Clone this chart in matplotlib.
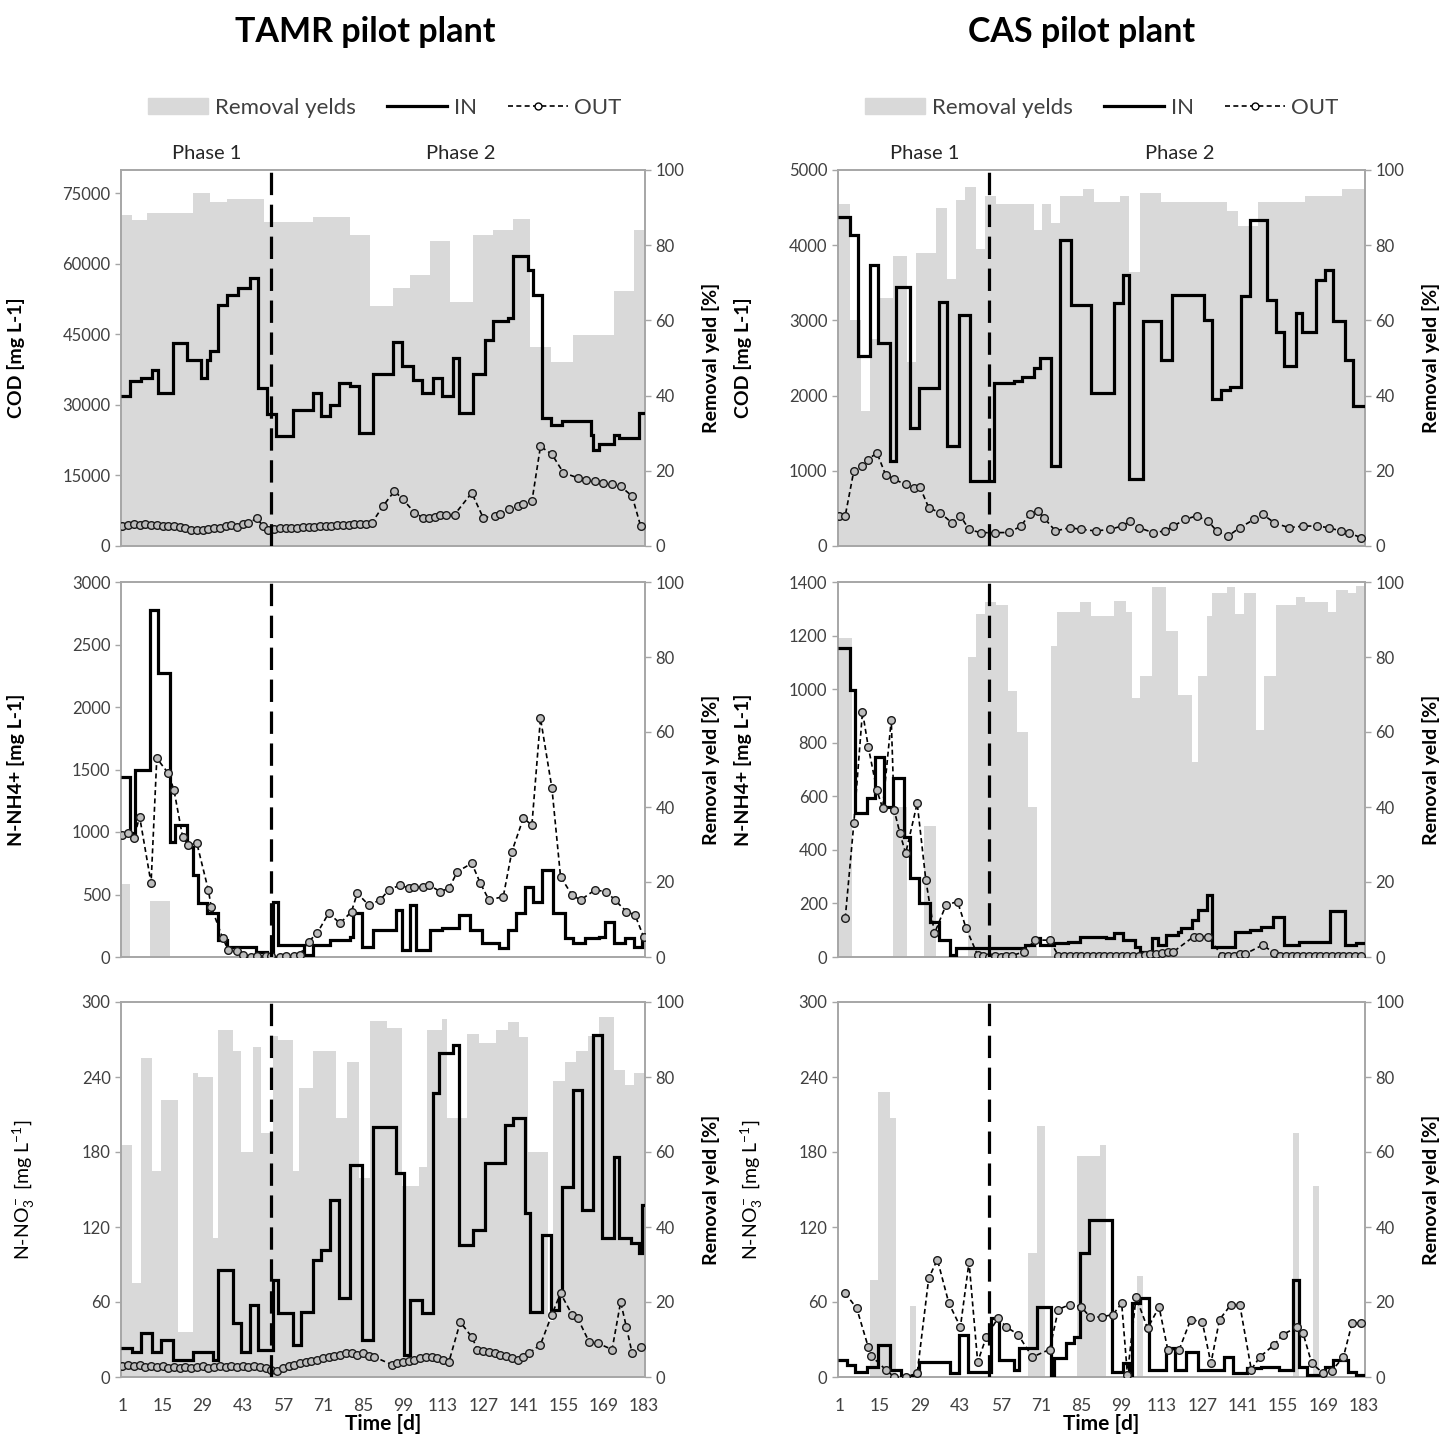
import numpy as np
import matplotlib.pyplot as plt
from matplotlib.patches import Patch
from matplotlib.lines import Line2D

plt.rcParams['font.family'] = ['Lato', 'DejaVu Sans']
plt.rcParams['mathtext.fontset'] = 'custom'
plt.rcParams['mathtext.rm'] = 'Lato'
plt.rcParams['mathtext.it'] = 'Lato:italic'
plt.rcParams['mathtext.bf'] = 'Lato:bold'

# ---------------- data (days of change / values) ----------------
# TAMR - COD
TAMR_COD_REM_DAYS = [1, 5, 10, 26, 32, 38, 51, 68, 81, 88, 96, 102, 109, 116, 124, 131, 138, 144, 151, 159, 173, 180]
TAMR_COD_REM = [88, 86.7, 88.5, 93.8, 91.6, 92.2, 86.3, 87.6, 82.7, 63.7, 68.6, 72, 81, 65, 82.7, 84, 87, 53, 49, 56, 67.7, 84]
TAMR_COD_IN_DAYS = [1, 4, 8, 12, 14, 19, 24, 29, 31, 32, 35, 38, 42, 46, 49, 52, 55, 61, 68, 71, 74, 77, 81, 84, 89,
                    96, 99, 103, 106, 110, 113, 117, 119, 124, 128, 131, 136, 138, 143, 145, 148, 151, 155, 165, 166,
                    168, 173, 175, 182]
TAMR_COD_IN = [32000, 35000, 35700, 37500, 32500, 43200, 39600, 35700, 39600, 41400, 51300, 53400, 54900, 57000,
               33600, 28000, 23400, 29000, 32500, 27600, 30100, 34700, 34000, 24100, 36500, 43300, 38200, 35400,
               32600, 35700, 31900, 40000, 28300, 36500, 43900, 47800, 48500, 61600, 58800, 53500, 27300, 25800,
               26500, 23700, 20500, 21600, 23700, 23000, 28300]
TAMR_COD_OUT_DAYS = [1, 3, 5, 7, 9, 11, 13, 15, 17, 19, 21, 23, 25, 27, 29, 31, 33, 35, 37, 39, 41, 43, 45, 48, 50,
                     52, 54, 56, 58, 60, 62, 64, 66, 68, 70, 72, 74, 76, 78, 80, 82, 84, 86, 88, 92, 96, 99, 103,
                     106, 108, 110, 112, 114, 117, 123, 127, 131, 133, 136, 139, 141, 144, 147, 151, 155, 160, 163,
                     166, 169, 172, 175, 179, 182]
TAMR_COD_OUT = [4200, 4400, 4600, 4500, 4600, 4500, 4400, 4300, 4200, 4300, 4000, 3800, 3500, 3400, 3300, 3600,
                3900, 3800, 4200, 4400, 4100, 4600, 4800, 6000, 4200, 3500, 3700, 3900, 3900, 3800, 3900, 4000,
                4000, 4100, 4200, 4200, 4300, 4400, 4400, 4500, 4600, 4700, 4600, 4800, 8500, 11700, 9900, 7100,
                6000, 6000, 6200, 6500, 6700, 6700, 11300, 6000, 6400, 6800, 7800, 8500, 9000, 9500, 21200,
                19500, 15600, 14500, 14000, 13800, 13300, 13100, 12700, 10600, 4200]

# TAMR - N-NH4+
TAMR_NH4_REM_DAYS = [1, 4, 11, 18]
TAMR_NH4_REM = [19.6, 0, 15, 0]
TAMR_NH4_IN_DAYS = [1, 4, 6, 11, 14, 18, 20, 24, 26, 28, 31, 35, 38, 48, 52, 54, 56, 65, 68, 74, 81, 82, 85, 89, 97,
                    99, 102, 104, 109, 113, 119, 123, 127, 133, 136, 139, 142, 145, 148, 152, 156, 159, 163, 168,
                    170, 173, 177, 180, 183]
TAMR_NH4_IN = [1443, 990, 1496, 2776, 2270, 923, 1056, 883, 656, 430, 350, 136, 83, 43, 5, 443, 96, 16, 96, 136,
               163, 350, 83, 216, 376, 56, 416, 56, 216, 229, 336, 216, 109, 69, 216, 350, 563, 443, 696, 350,
               150, 109, 150, 163, 283, 109, 150, 83, 163]
TAMR_NH4_OUT_DAYS = [1, 3, 5, 7, 11, 13, 17, 19, 22, 24, 27, 31, 32, 36, 38, 41, 43, 46, 48, 51, 53, 56, 58, 61, 63,
                     66, 69, 73, 77, 81, 83, 87, 91, 94, 98, 101, 103, 106, 108, 112, 115, 118, 123, 126, 129, 134,
                     137, 141, 144, 147, 151, 154, 158, 161, 166, 170, 173, 177, 180, 183]
TAMR_NH4_OUT = [980, 990, 950, 1123, 590, 1590, 1470, 1336, 963, 896, 909, 536, 403, 150, 56, 50, 20, 0, 10, 5,
                5, 0, 5, 5, 20, 123, 190, 350, 270, 363, 510, 416, 456, 536, 576, 550, 563, 560, 576, 523, 550,
                683, 750, 590, 456, 483, 843, 1110, 1056, 1910, 1350, 643, 496, 456, 536, 523, 456, 363, 336, 163]

# TAMR - N-NO3-
TAMR_NO3_REM_DAYS = [1, 5, 8, 12, 15, 21, 26, 28, 33, 35, 40, 43, 47, 50, 54, 56, 61, 63, 68, 76, 80, 84, 88, 94,
                     99, 105, 108, 113, 115, 122, 126, 132, 136, 140, 143, 150, 152, 156, 160, 164, 168, 173, 177, 180]
TAMR_NO3_REM = [62, 25, 85, 55, 74, 12, 81, 80, 37, 92.5, 87, 60, 88, 65, 91, 90, 55, 77, 87, 69, 84, 53, 95, 93,
                51, 56, 92.5, 95.6, 69, 91.6, 89, 92.5, 94.7, 90.7, 60, 15, 79, 84, 87, 91, 96, 82, 78, 81]
TAMR_NO3_IN_DAYS = [1, 5, 8, 12, 15, 19, 26, 33, 35, 40, 43, 46, 49, 54, 56, 61, 64, 68, 71, 74, 77, 81, 85, 89, 97,
                    100, 102, 106, 110, 112, 117, 119, 124, 128, 135, 138, 142, 144, 148, 151, 154, 155, 159, 162,
                    166, 169, 173, 175, 179, 182, 183]
TAMR_NO3_IN = [23, 20, 35, 20, 30, 14, 20, 14, 86, 43, 20, 58, 22, 78, 51, 26, 52, 94, 102, 142, 63, 170, 30, 200,
               163, 18, 62, 51, 227, 259, 266, 106, 118, 171, 202, 207, 131, 52, 114, 54, 67, 152, 230, 134, 274,
               111, 176, 111, 107, 99, 138]
TAMR_NO3_OUT_DAYS = [1, 3, 5, 7, 9, 11, 13, 15, 17, 19, 21, 23, 25, 27, 29, 31, 33, 35, 37, 39, 41, 43, 45, 47, 49,
                     51, 53, 55, 57, 59, 61, 63, 65, 67, 69, 71, 73, 75, 77, 79, 81, 83, 85, 87, 89, 95, 97, 99, 101,
                     103, 105, 107, 109, 111, 113, 115, 119, 123, 125, 127, 129, 131, 133, 135, 137, 139, 141, 143,
                     147, 151, 154, 158, 160, 164, 167, 172, 175, 177, 179, 182]
TAMR_NO3_OUT = [9, 10, 9, 10, 8, 9, 8, 9, 7, 8, 7, 8, 7, 8, 9, 7, 8, 9, 8, 9, 8, 9, 8, 9, 8, 7, 6, 5, 7, 9, 10, 11,
                12, 13, 14, 15, 16, 17, 18, 19, 19, 18, 19, 17, 16, 10, 11, 12, 13, 14, 15, 16, 16, 15, 14, 12, 44,
                32, 22, 21, 20, 19, 18, 17, 15, 14, 16, 19, 26, 50, 67, 50, 47, 28, 27, 22, 60, 40, 19, 24]

# CAS - COD
CAS_COD_REM_DAYS = [1, 5, 9, 12, 15, 20, 25, 28, 35, 39, 42, 45, 49, 52, 56, 69, 72, 75, 78, 86, 90, 99, 102, 106,
                    113, 136, 140, 147, 163, 176]
CAS_COD_REM = [91, 60, 36, 55, 66, 77, 49, 78, 90, 71, 92, 95.5, 79, 93, 91, 84, 91, 86, 93, 95, 91.6, 93, 73, 94,
               91.6, 89, 85, 91.6, 93, 95]
CAS_COD_IN_DAYS = [1, 5, 8, 12, 15, 19, 21, 26, 29, 36, 39, 43, 47, 55, 62, 65, 69, 71, 75, 78, 82, 89, 97, 100,
                   102, 107, 113, 117, 128, 131, 134, 137, 141, 144, 150, 153, 156, 160, 162, 167, 170, 173, 177, 180]
CAS_COD_IN = [4380, 4137, 2520, 3740, 2700, 1130, 3450, 1570, 2100, 3250, 1330, 3075, 860, 2170, 2200, 2250, 2370,
              2500, 1060, 4070, 3210, 2035, 3230, 3600, 885, 2990, 2480, 3340, 3010, 1950, 2080, 2120, 3320, 4340,
              3275, 2850, 2390, 3100, 2850, 3540, 3670, 2990, 2480, 1860]
CAS_COD_OUT_DAYS = [1, 3, 6, 9, 11, 14, 17, 20, 24, 27, 29, 32, 36, 40, 43, 46, 50, 55, 60, 64, 67, 70, 72, 76, 81,
                    85, 90, 95, 99, 102, 105, 110, 114, 117, 121, 125, 129, 132, 136, 140, 145, 148, 152, 157, 162,
                    167, 171, 175, 178, 182]
CAS_COD_OUT = [400, 400, 1000, 1060, 1150, 1240, 950, 885, 820, 775, 780, 510, 440, 310, 400, 220, 177, 177, 180,
               265, 420, 465, 376, 200, 243, 221, 200, 221, 265, 332, 243, 177, 200, 265, 354, 400, 332, 200, 133,
               243, 354, 420, 310, 243, 265, 265, 243, 200, 177, 110]

# CAS - N-NH4+
CAS_NH4_REM_DAYS = [1, 6, 20, 25, 31, 35, 46, 49, 52, 56, 60, 63, 67, 70, 75, 77, 85, 89, 97, 101, 103, 106, 110,
                    115, 119, 124, 126, 129, 131, 136, 139, 142, 146, 149, 153, 160, 163, 171, 174, 178, 181]
CAS_NH4_REM = [85, 0, 40, 0, 35, 0, 80, 91.6, 94.7, 94, 71, 60, 40, 0, 83, 92, 94.7, 91, 95, 92, 69, 75, 98.8, 87,
               70, 52, 75, 91, 97, 98.8, 91.6, 97, 60.5, 75, 94, 96, 94.7, 92, 98, 97, 99]
CAS_NH4_IN_DAYS = [1, 5, 7, 11, 14, 17, 20, 24, 26, 29, 33, 36, 40, 42, 66, 69, 71, 76, 81, 85, 94, 97, 100, 104,
                   106, 110, 112, 115, 119, 120, 124, 126, 129, 131, 139, 144, 148, 152, 156, 161, 172, 177, 181]
CAS_NH4_IN = [1152, 997, 536, 592, 748, 561, 667, 449, 294, 200, 132, 63, 7, 32, 45, 70, 45, 51, 57, 76, 70, 88,
              63, 39, 20, 70, 45, 82, 95, 107, 138, 175, 231, 39, 95, 100, 113, 150, 45, 57, 170, 45, 51]
CAS_NH4_OUT_DAYS = [3, 6, 9, 11, 14, 16, 19, 20, 22, 24, 28, 31, 34, 38, 42, 45, 49, 51, 53, 55, 57, 59, 61, 65, 69,
                    74, 77, 79, 81, 83, 85, 87, 89, 91, 93, 95, 97, 99, 101, 103, 105, 107, 109, 111, 113, 115, 117,
                    124, 126, 129, 134, 136, 138, 140, 142, 148, 152, 154, 156, 158, 160, 162, 164, 166, 168, 170,
                    172, 174, 176, 178, 180, 182]
CAS_NH4_OUT = [144, 499, 916, 785, 623, 555, 885, 549, 462, 387, 574, 287, 88, 194, 207, 107, 7, 3, 0, 2, 0, 3, 5,
               20, 63, 63, 5, 2, 3, 2, 3, 2, 3, 2, 3, 5, 3, 4, 2, 3, 5, 8, 10, 12, 15, 18, 20, 76, 76, 76, 2, 3,
               5, 10, 12, 45, 14, 5, 3, 2, 3, 2, 3, 2, 3, 2, 3, 2, 3, 2, 3, 2]

# CAS - N-NO3-
CAS_NO3_REM_DAYS = [1, 12, 15, 19, 21, 26, 28, 67, 70, 73, 84, 92, 94, 105, 107, 159, 161, 166, 168]
CAS_NO3_REM = [0, 26, 76, 69, 0, 19, 0, 33, 67, 0, 59, 62, 0, 27, 0, 65, 0, 51, 0]
CAS_NO3_IN_DAYS = [1, 4, 7, 11, 15, 19, 23, 29, 40, 43, 46, 54, 57, 62, 64, 70, 75, 76, 80, 83, 85, 88, 96, 100,
                   102, 103, 106, 109, 115, 118, 122, 126, 135, 138, 143, 148, 154, 159, 161, 164, 170, 173, 178, 181]
CAS_NO3_IN = [14, 10, 4, 8, 26, 6, 1, 12, 3, 34, 4, 47, 14, 6, 23, 56, 2, 15, 27, 32, 99, 126, 4, 11, 2, 59, 63, 6,
              23, 6, 20, 6, 16, 3, 7, 8, 6, 78, 8, 2, 8, 14, 4, 2]
CAS_NO3_OUT_DAYS = [3, 7, 11, 12, 17, 20, 24, 28, 32, 35, 39, 43, 46, 49, 52, 56, 59, 63, 68, 74, 77, 81, 85, 88,
                    92, 96, 99, 101, 104, 108, 112, 115, 119, 123, 127, 130, 133, 137, 140, 144, 147, 152, 155, 160,
                    162, 165, 169, 172, 176, 179, 182]
CAS_NO3_OUT = [67, 55, 24, 17, 6, 0, 0, 3, 79, 94, 59, 40, 92, 12, 32, 47, 40, 34, 16, 22, 54, 58, 56, 48, 48, 50,
               59, 2, 64, 39, 56, 22, 22, 46, 44, 11, 46, 58, 58, 6, 16, 26, 34, 40, 35, 11, 3, 5, 16, 43, 43]

PHASE_SWITCH = 53
LAST_DAY = 183
X_TICKS = list(range(1, LAST_DAY + 1, 14))
PHASE_LABELS = [('Phase 1', 30.5), ('Phase 2', 119)]

BAR_GREY = '#d9d9d9'
SPINE_GREY = '#a6a6a6'
TEXT_GREY = '#404040'

W, H = 1442, 1451
fig = plt.figure(figsize=(W / 100, H / 100), dpi=100)


def px_rect(x0, x1, y0, y1):
    # pixel box (top-left origin) -> figure fraction rect
    return [x0 / W, 1 - y1 / H, (x1 - x0) / W, (y1 - y0) / H]


def draw_panel(rect, rem_days, rem_vals, in_days, in_vals, out_days, out_vals,
               ytop, ytick_max, ystep, ylabel, ylabel_bold, label_x, bottom_row, top_row):
    ax = fig.add_axes(rect)
    ax2 = ax.twinx()

    # removal yields (bars on the % axis)
    starts = np.asarray(rem_days, float) - 0.5
    edges = np.append(starts, LAST_DAY + 0.5)
    ax2.bar(starts, rem_vals, width=np.diff(edges), align='edge', color=BAR_GREY, linewidth=0)
    ax2.set_ylim(0, 100)
    ax2.set_yticks(range(0, 101, 20))

    ax.set_zorder(ax2.get_zorder() + 1)
    ax.patch.set_visible(False)

    # IN (step line) and OUT (dashed with markers)
    in_edges = np.append(np.asarray(in_days, float) - 0.5, LAST_DAY + 0.5)
    ax.stairs(in_vals, in_edges, baseline=None, color='black', lw=2.3, zorder=4)
    ax.plot(out_days, out_vals, ls=(0, (3, 2)), color='black', lw=1.2, marker='o', ms=5.5,
            mfc='#bdbdbd', mec='#1a1a1a', mew=1.0, zorder=5)
    ax.axvline(PHASE_SWITCH, color='black', lw=2.3, ls=(0, (7, 3)), zorder=6)

    ax.set_xlim(0.5, LAST_DAY + 0.5)
    ax.set_ylim(0, ytop)
    ax.set_yticks(np.arange(0, ytick_max + 1, ystep))
    ax.set_xticks(X_TICKS)

    for a in (ax, ax2):
        for s in a.spines.values():
            s.set_color(SPINE_GREY)
            s.set_linewidth(1.2)
        a.tick_params(axis='y', colors=SPINE_GREY, labelcolor=TEXT_GREY, labelsize=12, length=4, width=1)

    if bottom_row:
        ax.tick_params(axis='x', length=0, labelsize=12.5, labelcolor=TEXT_GREY, pad=15)
        ax.set_xlabel('Time [d]', fontsize=15, fontweight='bold', labelpad=0)
    else:
        ax.tick_params(axis='x', length=0, labelbottom=False)

    ax.set_ylabel(ylabel, fontsize=14, fontweight='bold' if ylabel_bold else 'normal')
    ax.yaxis.set_label_coords(label_x, 0.5)
    ax2.set_ylabel('Removal yeld [%]', fontsize=14, fontweight='bold')
    ax2.yaxis.set_label_coords(1.108, 0.5)

    if top_row:
        for txt, day in PHASE_LABELS:
            ax.text(day, 1.045, txt, transform=ax.get_xaxis_transform(), ha='center', va='center',
                    fontsize=14.5, color='#262626')
    return ax


NO3_LABEL = r'N-NO$_3^-$ [mg L$^{-1}$]'

# label x offsets (axes fraction) for COD, NH4, NO3 rows
columns = [
    (121, 645, [-0.183, -0.183, -0.16], [
        (TAMR_COD_REM_DAYS, TAMR_COD_REM, TAMR_COD_IN_DAYS, TAMR_COD_IN, TAMR_COD_OUT_DAYS, TAMR_COD_OUT,
         80000, 75000, 15000, 'COD [mg L-1]', True),
        (TAMR_NH4_REM_DAYS, TAMR_NH4_REM, TAMR_NH4_IN_DAYS, TAMR_NH4_IN, TAMR_NH4_OUT_DAYS, TAMR_NH4_OUT,
         3000, 3000, 500, 'N-NH4+ [mg L-1]', True),
        (TAMR_NO3_REM_DAYS, TAMR_NO3_REM, TAMR_NO3_IN_DAYS, TAMR_NO3_IN, TAMR_NO3_OUT_DAYS, TAMR_NO3_OUT,
         300, 300, 60, NO3_LABEL, False),
    ]),
    (838, 1365, [-0.163, -0.163, -0.138], [
        (CAS_COD_REM_DAYS, CAS_COD_REM, CAS_COD_IN_DAYS, CAS_COD_IN, CAS_COD_OUT_DAYS, CAS_COD_OUT,
         5000, 5000, 1000, 'COD [mg L-1]', True),
        (CAS_NH4_REM_DAYS, CAS_NH4_REM, CAS_NH4_IN_DAYS, CAS_NH4_IN, CAS_NH4_OUT_DAYS, CAS_NH4_OUT,
         1400, 1400, 200, 'N-NH4+ [mg L-1]', True),
        (CAS_NO3_REM_DAYS, CAS_NO3_REM, CAS_NO3_IN_DAYS, CAS_NO3_IN, CAS_NO3_OUT_DAYS, CAS_NO3_OUT,
         300, 300, 60, NO3_LABEL, False),
    ]),
]
ROW_PIX = [(170, 546), (582, 957), (1002, 1377)]

for x0, x1, label_xs, panels in columns:
    for i, (p, (y0, y1)) in enumerate(zip(panels, ROW_PIX)):
        draw_panel(px_rect(x0, x1, y0, y1), *p, label_x=label_xs[i],
                   bottom_row=(i == 2), top_row=(i == 0))

fig.text(365 / W, 1 - 32 / H, 'TAMR pilot plant', ha='center', va='center', fontsize=24.5, fontweight='bold')
fig.text(1082 / W, 1 - 32 / H, 'CAS pilot plant', ha='center', va='center', fontsize=24.5, fontweight='bold')

handles = [Patch(color=BAR_GREY),
           Line2D([], [], color='black', lw=2.3),
           Line2D([], [], color='black', lw=1.2, ls=(0, (3, 2)), marker='o', ms=5, mfc='white', mec='black')]
labels = ['Removal yelds', 'IN', 'OUT']
for cx in (385, 1102):
    fig.legend(handles, labels, loc='center', bbox_to_anchor=(cx / W, 1 - 108 / H), ncol=3, frameon=False,
               fontsize=16, handlelength=2.7, columnspacing=1.4, handletextpad=0.3, labelcolor=TEXT_GREY)

fig.savefig('out.png', dpi=100, facecolor='white')
